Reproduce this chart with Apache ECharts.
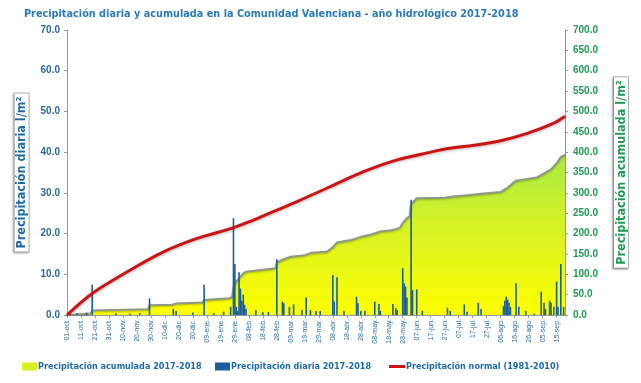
<!DOCTYPE html>
<html><head><meta charset="utf-8">
<script src="https://cdn.jsdelivr.net/npm/echarts@6/dist/echarts.min.js"></script>
<style>html,body{margin:0;padding:0;background:#fff}#c{width:641px;height:383px}</style>
</head><body><div id="c"></div>
<script>
// x tick labels every 10 days (day index 0 = 01-oct-2017; template includes 29-feb)
const tickLabels = ['01-oct.','11-oct.','21-oct.','31-oct.','10-nov.','20-nov.','30-nov.','10-dic.','20-dic.','30-dic.',
  '09-ene.','19-ene.','29-ene.','08-feb.','18-feb.','28-feb.','09-mar.','19-mar.','29-mar.','08-abr.',
  '18-abr.','28-abr.','08-may.','18-may.','28-may.','07-jun.','17-jun.','27-jun.','07-jul.','17-jul.',
  '27-jul.','06-ago.','16-ago.','26-ago.','05-sep.','15-sep.'];
const lastDay = 356;

// Daily precipitation (day index, l/m2)
const dailyDays = [2,7,14,18,35,45,52,59,76,78,90,98,105,112,117,119,120,121,122,123,124,125,126,127,128,
  135,140,144,150,154,155,159,162,168,171,174,178,181,190,191,193,198,207,208,210,213,220,223,224,233,235,236,
  240,241,242,243,246,247,250,254,272,274,284,286,294,296,312,313,314,315,316,317,321,323,328,334,
  339,341,342,345,346,348,350,351,353,355];
const dailyValues = [0.5,0.5,0.6,7.4,0.4,0.3,0.5,4.1,1.5,1.0,0.6,7.4,0.5,0.8,2.0,23.8,12.5,2.0,1.0,10.5,6.5,3.5,5.0,2.5,1.5,
  1.2,0.7,0.7,13.7,3.3,2.9,2.0,2.6,1.2,4.3,1.2,1.0,1.0,9.8,3.3,9.3,1.0,4.5,2.9,1.0,1.0,3.3,2.7,1.0,2.7,1.7,1.2,
  11.5,7.8,7.0,4.3,28.3,6.1,6.3,1.0,1.8,1.0,2.6,0.8,3.0,1.5,2.2,3.5,4.5,3.8,3.0,2.0,7.8,2.0,1.0,0.3,
  5.7,3.0,1.5,3.5,3.0,2.0,8.2,2.0,12.5,2.0];

// Accumulated precipitation 2017-2018 (day index, l/m2)
const accDays = [0,6,14,17,18,58,59,75,78,97,98,116,118,119,120,123,126,128,149,150,155,160,170,174,186,190,193,203,210,217,224,233,238,240,243,245,246,250,270,276,286,296,310,315,321,336,341,346,350,353,356];
const accValues = [0,1,3,4,11,14,24,25,28,31,37,41,43,66,78,90,102,106,115,129,137,143,147,152,156,166,178,184,192,197,205,209,214,226,238,242,272,287,288,291,294,298,302,313,330,338,348,358,372,388,394];

// Normal accumulated precipitation 1981-2010 (day index, l/m2)
const normDays = [0,18,45,69,93,117,131,140,164,188,212,236,260,272,291,310,329,348,356];
const normValues = [0,53,110,155,188,212,230,243,278,315,352,381,400,409,417,428,446,471,488];

const zip = (a,b) => a.map((d,i)=>[d,b[i]]);
const FONT = "'Liberation Sans Narrow','DejaVu Sans Condensed','Liberation Sans',sans-serif";
const BLUE = '#1e6aa8', GREEN = '#1f9a55';
const legText = {color:BLUE, fontWeight:'bold', fontSize:9, fontFamily:FONT, padding:[0,0,0,-4]};

const chart = echarts.init(document.getElementById('c'), null, {renderer:'canvas'});
chart.setOption({
  animation:false,
  backgroundColor:'#fff',
  title:{text:'Precipitación diaria y acumulada en la Comunidad Valenciana - año hidrológico 2017-2018',
    left:19, top:4, textStyle:{color:'#2a7bb8', fontSize:10.8, fontWeight:'bold', fontFamily:FONT}},
  grid:{left:67, right:76, top:30, bottom:68},
  legend:[
    {data:[{name:'Precipitación acumulada 2017-2018', icon:'rect'}], left:17, top:357, itemWidth:15, itemHeight:8,
     textStyle:legText},
    {data:[{name:'Precipitación diaria 2017-2018', icon:'rect'}], left:210, top:357, itemWidth:15, itemHeight:8,
     textStyle:legText},
    {data:[{name:'Precipitación normal (1981-2010)', icon:'rect'}], left:384, top:357, itemWidth:16, itemHeight:3,
     textStyle:legText}
  ],
  xAxis:{type:'value', min:0, max:lastDay, interval:10,
    axisLine:{show:true, lineStyle:{color:'#8c99a6'}},
    axisTick:{show:true, length:3, lineStyle:{color:'#8c99a6'}},
    splitLine:{show:false},
    axisLabel:{rotate:90, fontSize:7, color:'#2a6a9a', fontFamily:"'Liberation Sans',Arial,sans-serif", margin:4,
      showMaxLabel:false, formatter:v => (v%10===0 && tickLabels[v/10]) ? tickLabels[v/10] : ''}},
  yAxis:[
    {type:'value', min:0, max:70, interval:10, position:'left',
     name:'Precipitación diaria l/m²', nameLocation:'middle', nameGap:38, nameRotate:90,
     nameTextStyle:{color:BLUE, fontWeight:'bold', fontSize:12.5, fontFamily:FONT, backgroundColor:'#fff',
       borderColor:'#aab6c0', borderWidth:1, padding:[1,3,0,3], shadowColor:'rgba(0,0,0,0.25)', shadowBlur:2, shadowOffsetX:-1, shadowOffsetY:1},
     axisLine:{show:true, lineStyle:{color:'#8c99a6'}},
     axisTick:{show:true, length:3, lineStyle:{color:'#8c99a6'}},
     splitLine:{show:false},
     axisLabel:{color:'#2a6a9a', fontWeight:'bold', fontSize:10, fontFamily:"'Liberation Sans',Arial,sans-serif", margin:7, formatter:v=>v.toFixed(1)}},
    {type:'value', min:0, max:700, interval:50, position:'right',
     name:'Precipitación acumulada l/m²', nameLocation:'middle', nameGap:49, nameRotate:90,
     nameTextStyle:{color:GREEN, fontWeight:'bold', fontSize:12.5, fontFamily:FONT, backgroundColor:'#fff',
       borderColor:'#aab6c0', borderWidth:1, padding:[1,3,0,3], shadowColor:'rgba(0,0,0,0.25)', shadowBlur:2, shadowOffsetX:-1, shadowOffsetY:1},
     axisLine:{show:true, lineStyle:{color:'#8c99a6'}},
     axisTick:{show:true, length:3, lineStyle:{color:'#8c99a6'}},
     splitLine:{show:false},
     axisLabel:{color:GREEN, fontWeight:'bold', fontSize:10, fontFamily:"'Liberation Sans',Arial,sans-serif", margin:8, formatter:v=>v.toFixed(1)}}
  ],
  series:[
    {name:'Precipitación acumulada 2017-2018', type:'line', yAxisIndex:1, data:zip(accDays,accValues),
     showSymbol:false, symbol:'none', z:1,
     itemStyle:{color:'#d6f020'},
     lineStyle:{color:'#8f9a80', width:2, shadowColor:'rgba(0,0,0,0.25)', shadowBlur:2, shadowOffsetY:1},
     areaStyle:{opacity:1, color:new echarts.graphic.LinearGradient(0,0,0,1,[
       {offset:0,color:'#a9ea45'},{offset:0.45,color:'#d6f224'},{offset:1,color:'#ffff00'}])}},
    {name:'Precipitación diaria 2017-2018', type:'bar', yAxisIndex:0, data:zip(dailyDays,dailyValues),
     barWidth:1.6, z:3, itemStyle:{color:'#1a5e9e'}},
    {name:'Precipitación normal (1981-2010)', type:'line', yAxisIndex:1, data:zip(normDays,normValues),
     showSymbol:false, symbol:'none', smooth:0.3, z:4,
     itemStyle:{color:'#cc1414'},
     lineStyle:{color:'#cc1414', width:3, shadowColor:'rgba(0,0,0,0.3)', shadowBlur:3, shadowOffsetY:1}}
  ]
});
</script></body></html>
